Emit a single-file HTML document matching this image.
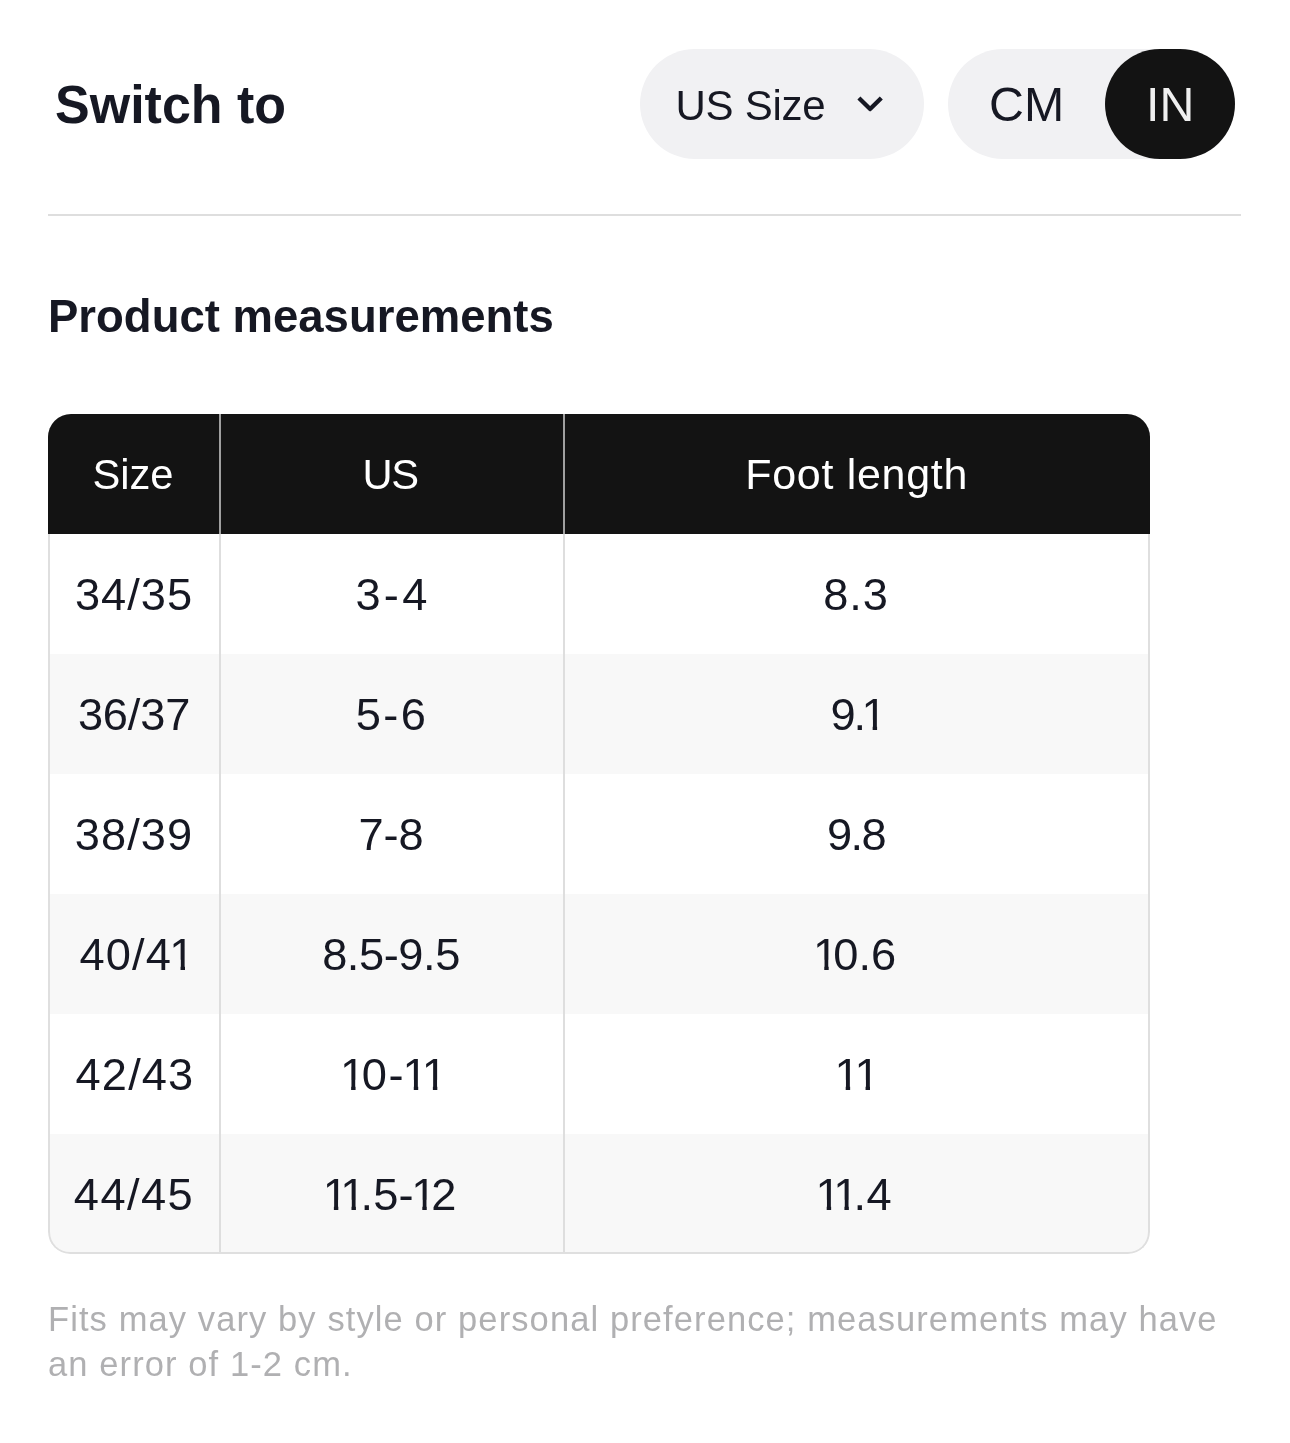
<!DOCTYPE html>
<html lang="en">
<head>
<meta charset="utf-8">
<title>Size guide</title>
<style>
*{box-sizing:border-box;margin:0;padding:0}
html,body{width:1290px;height:1443px;background:#fff;overflow:hidden}
body{font-family:"Liberation Sans",sans-serif;color:#161823;position:relative}
.abs{position:absolute;white-space:nowrap}
#switch{left:55px;top:76.5px;font-size:53.4px;font-weight:700;line-height:56px;color:#161823;transform-origin:0 0;transform:scaleX(.974)}
.pill{position:absolute;top:49px;height:110px;border-radius:55px;background:#f1f1f3}
#p1{left:640px;width:284px}
#p2{left:948px;width:287px}
#in{position:absolute;left:157px;top:0;width:130px;height:110px;border-radius:55px;background:#131313}
.pt{position:absolute;font-size:41px;line-height:48px;white-space:nowrap;color:#161823}
#hr{position:absolute;left:48px;top:214px;width:1193px;height:2px;background:#dedede}
#pm{left:48px;top:291.5px;font-size:45.5px;font-weight:700;line-height:50px}
#tbl{position:absolute;left:48px;top:414px;width:1102px;height:840px;border-radius:23px 23px 22px 22px;overflow:hidden;background:#fff}
#tbl .bd{position:absolute;left:0;top:120px;right:0;bottom:0;border:2px solid #dfdfdf;border-top:0;border-radius:0 0 22px 22px;pointer-events:none}
.row{position:absolute;left:0;width:1102px;height:120px}
.row.h{background:#131313;color:#fff}
.row.g{background:#f8f8f8}
.t{position:absolute;top:36.7px;line-height:48px;font-size:43.5px;white-space:nowrap;color:#161823}
.o{display:inline-block;font-style:normal;line-height:1em;margin:0 -.113em 0 -.058em;clip-path:polygon(0 0,100% 0,100% .6em,.345em .6em,.345em 100%,.247em 100%,.247em .6em,0 .6em)}
.h .t{font-size:43px;color:#fff;top:35.5px}
.vl{position:absolute;top:0;width:2px;height:840px;background:linear-gradient(#a0a0a0 0,#a0a0a0 120px,#dedede 120px,#dedede 100%)}
#note{position:absolute;left:48px;top:1297px;width:1240px;font-size:34.5px;letter-spacing:1.1px;line-height:44.5px;color:#b0b0b2}
</style>
</head>
<body>
<div id="switch" class="abs">Switch to</div>
<div id="p1" class="pill"><span class="pt" style="left:35.6px;top:32.6px;font-size:42px;letter-spacing:-.3px">US Size</span>
<svg style="position:absolute;left:214px;top:44px" width="32" height="24" viewBox="0 0 32 24"><path d="M4.9 4.9 L16.1 16.1 L27.3 4.9" fill="none" stroke="#161823" stroke-width="4.3" stroke-linecap="butt" stroke-linejoin="round"/></svg>
</div>
<div id="p2" class="pill"><span class="pt" style="left:41px;top:30.5px;font-size:48.3px">CM</span><div id="in"><span class="pt" style="left:41px;top:30.5px;font-size:48.3px;color:#efefef">IN</span></div></div>
<div id="hr"></div>
<div id="pm" class="abs">Product measurements</div>
<div id="tbl">
<div class="row h" style="top:0px">
<span class="t" style="left:84.90px;letter-spacing:-0.03px;transform:translateX(-50%) scaleX(0.970)">Size</span>
<span class="t" style="left:342.40px;letter-spacing:-1.59px;transform:translateX(-50%) scaleX(0.970)">US</span>
<span class="t" style="left:808.70px;letter-spacing:0.69px;transform:translateX(-50%)">Foot length</span>
</div>
<div class="row" style="top:120px">
<span class="t" style="left:86.10px;letter-spacing:0.96px;transform:translateX(-50%) scaleX(1.040)">34/35</span>
<span class="t" style="left:344.50px;letter-spacing:3.08px;transform:translateX(-50%) scaleX(1.040)">3-4</span>
<span class="t" style="left:808.00px;letter-spacing:0.91px;transform:translateX(-50%) scaleX(1.040)">8.3</span>
</div>
<div class="row g" style="top:240px">
<span class="t" style="left:86.10px;letter-spacing:-0.19px;transform:translateX(-50%) scaleX(1.040)">36/37</span>
<span class="t" style="left:344.00px;letter-spacing:2.21px;transform:translateX(-50%) scaleX(1.040)">5-6</span>
<span class="t" style="left:806.60px;letter-spacing:-2.00px;transform:translateX(-50%) scaleX(1.040)">9.<i class="o">1</i></span>
</div>
<div class="row" style="top:360px">
<span class="t" style="left:86.40px;letter-spacing:0.99px;transform:translateX(-50%) scaleX(1.040)">38/39</span>
<span class="t" style="left:343.00px;letter-spacing:-0.14px;transform:translateX(-50%) scaleX(1.040)">7-8</span>
<span class="t" style="left:807.60px;letter-spacing:-1.59px;transform:translateX(-50%) scaleX(1.040)">9.8</span>
</div>
<div class="row g" style="top:480px">
<span class="t" style="left:86.60px;letter-spacing:1.08px;transform:translateX(-50%) scaleX(1.040)">40/4<i class="o">1</i></span>
<span class="t" style="left:343.40px;letter-spacing:-0.43px;transform:translateX(-50%) scaleX(1.040)">8.5-9.5</span>
<span class="t" style="left:807.80px;letter-spacing:0.06px;transform:translateX(-50%) scaleX(1.040)"><i class="o">1</i>0.6</span>
</div>
<div class="row" style="top:600px">
<span class="t" style="left:87.30px;letter-spacing:1.08px;transform:translateX(-50%) scaleX(1.040)">42/43</span>
<span class="t" style="left:344.50px;letter-spacing:1.59px;transform:translateX(-50%) scaleX(1.040)"><i class="o">1</i>0-<i class="o">1</i><i class="o">1</i></span>
<span class="t" style="left:808.80px;letter-spacing:2.31px;transform:translateX(-50%) scaleX(1.040)"><i class="o">1</i><i class="o">1</i></span>
</div>
<div class="row g" style="top:720px">
<span class="t" style="left:86.30px;letter-spacing:1.37px;transform:translateX(-50%) scaleX(1.040)">44/45</span>
<span class="t" style="left:343.30px;letter-spacing:0.14px;transform:translateX(-50%) scaleX(1.040)"><i class="o">1</i><i class="o">1</i>.5-<i class="o">1</i>2</span>
<span class="t" style="left:807.00px;letter-spacing:0.26px;transform:translateX(-50%) scaleX(1.040)"><i class="o">1</i><i class="o">1</i>.4</span>
</div>
<div class="vl" style="left:171px"></div><div class="vl" style="left:515px"></div>
<div class="bd"></div>
</div>
<div id="note">Fits may vary by style or personal preference; measurements may have<br>an error of 1-2 cm.</div>
</body>
</html>
